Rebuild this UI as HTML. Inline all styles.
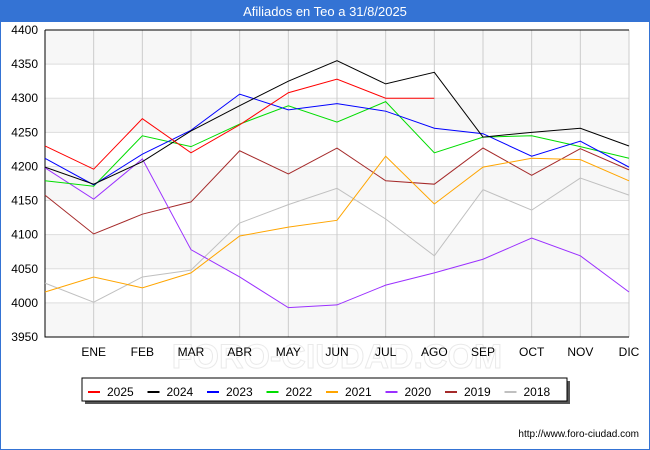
<!DOCTYPE html>
<html><head><meta charset="utf-8"><style>
body{margin:0;width:650px;height:450px;overflow:hidden;background:#fff;font-family:"Liberation Sans","DejaVu Sans",sans-serif;}
#frame{position:absolute;left:0;top:0;width:648px;height:448px;border:1px solid #3473d4;}
#title{position:absolute;left:0;top:0;width:650px;height:22px;background:#3473d4;color:#fff;font-size:13px;text-align:center;line-height:23px;}
</style></head><body>
<div id="frame"></div>
<div id="title">Afiliados en Teo a 31/8/2025</div>
<svg id="chart" width="650" height="450" style="position:absolute;left:0;top:0"></svg>
<script>
const months=["","ENE","FEB","MAR","ABR","MAY","JUN","JUL","AGO","SEP","OCT","NOV","DIC"];
const yTicks=[3950,4000,4050,4100,4150,4200,4250,4300,4350,4400];
const seriesNames=["2025","2024","2023","2022","2021","2020","2019","2018"];
const seriesColors=["#ff0000","#000000","#0000ff","#00dd00","#ffa500","#9b30ff","#a52a2a","#c0c0c0"];
const s2025=[4230,4196,4270,4220,4261,4308,4328,4300,4300];
const s2024=[4199,4174,4207,4252,4289,4325,4355,4321,4338,4243,4250,4256,4230];
const s2023=[4212,4173,4218,4253,4306,4283,4292,4281,4256,4248,4215,4237,4199];
const s2022=[4179,4171,4245,4229,4262,4289,4265,4295,4220,4243,4245,4229,4212];
const s2021=[4016,4038,4022,4044,4098,4111,4121,4215,4145,4199,4212,4210,4179];
const s2020=[4198,4152,4211,4078,4038,3993,3997,4026,4044,4064,4095,4069,4016];
const s2019=[4158,4101,4130,4148,4223,4189,4227,4179,4174,4227,4187,4226,4195];
const s2018=[4029,4001,4038,4048,4117,4144,4168,4123,4069,4166,4136,4183,4158];
const allSeries=[s2025,s2024,s2023,s2022,s2021,s2020,s2019,s2018];
const NS="http://www.w3.org/2000/svg";
const svg=document.getElementById('chart');
const L=45,R=629,T=30,B=337,yMin=3950,yMax=4400;
const x=i=>L+i*(R-L)/12;
const y=v=>B-(v-yMin)*(B-T)/(yMax-yMin);
function mk(tag,attrs,parent){const e=document.createElementNS(NS,tag);for(const k in attrs)e.setAttribute(k,attrs[k]);(parent||svg).appendChild(e);return e;}
for(let i=0;i<yTicks.length-1;i++){
  if((yTicks.length-2-i)%2===0){const r=mk('rect',{x:L,y:y(yTicks[i+1]),width:R-L,height:y(yTicks[i])-y(yTicks[i+1]),fill:'#f7f7f7'});
  
  }
}
yTicks.forEach(v=>{
  const l=mk('line',{x1:L,x2:R,y1:y(v),y2:y(v),stroke:'#dddddd','stroke-width':1});
  
  
  const t=mk('text',{x:L-7,y:y(v)+4,'text-anchor':'end','font-size':12,fill:'#000'});
  t.textContent=v;
  
  
});
const wm=mk('text',{x:337,y:368,'text-anchor':'middle','font-size':34,fill:'none',stroke:'#eaeaea','stroke-width':1,'font-weight':'bold'});
wm.textContent="FORO-CIUDAD.COM";


months.forEach((m,i)=>{
  if(i>0){const l=mk('line',{x1:x(i),x2:x(i),y1:T,y2:B,stroke:'#cccccc','stroke-width':1});
  
  
  const t=mk('text',{x:x(i),y:B+19,'text-anchor':'middle','font-size':12,fill:'#000'});
  t.textContent=m;
  
  }
});
const ax=mk('polyline',{points:`${L},${T} ${L},${B} ${R},${B}`,fill:'none',stroke:'#000','stroke-width':1});


const axt=mk('line',{x1:L,x2:R,y1:T,y2:T,stroke:'#000','stroke-width':1});


for(let s=allSeries.length-1;s>=0;s--){
  const pts=allSeries[s].map((v,i)=>x(i)+','+y(v)).join(' ');
  const p=mk('polyline',{points:pts,fill:'none',stroke:seriesColors[s],'stroke-width':1});
  
  
}
const sh=mk('rect',{x:85,y:381,width:485,height:23,fill:'#555'});


const lg=mk('rect',{x:82,y:378,width:485,height:23,fill:'#fff',stroke:'#000','stroke-width':1});


seriesNames.forEach((n,i)=>{
  const lx=88+i*59.5;
  const l=mk('line',{x1:lx,x2:lx+12,y1:392,y2:392,stroke:seriesColors[i],'stroke-width':2});
  
  
  const t=mk('text',{x:lx+19,y:396,'font-size':12,fill:'#000'});
  t.textContent=n;
  
  
});
const u=mk('text',{x:639,y:437,'text-anchor':'end','font-size':10,fill:'#000'});
u.textContent="http://www.foro-ciudad.com";


</script>
</body></html>
